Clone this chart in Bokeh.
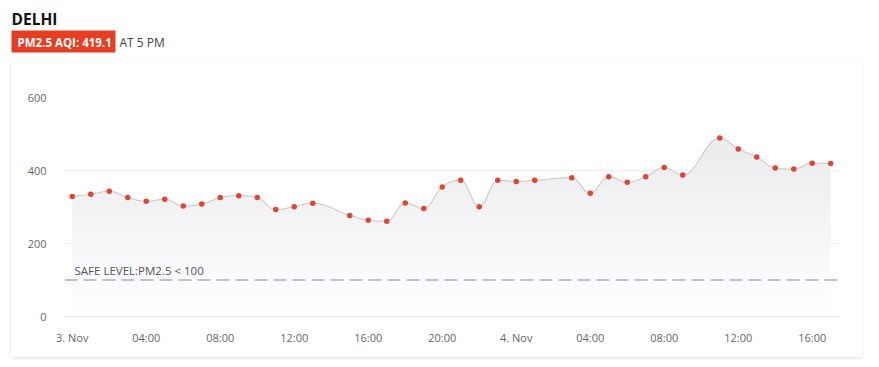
import numpy as np
from bokeh.plotting import figure
from bokeh.models import FixedTicker, Span, Label, Range1d, Spacer
from bokeh.layouts import column, row
from bokeh.core.properties import value
from bokeh.embed import file_html
from bokeh.resources import INLINE

# ---- data (hours after 3 Nov 00:00, PM2.5 AQI) ----
hours = [0, 1, 2, 3, 4, 5, 6, 7, 8, 9, 10, 11, 12, 13,
         15, 16, 17, 18, 19, 20, 21, 22, 23, 24, 25,
         27, 28, 29, 30, 31, 32, 33,
         35, 36, 37, 38, 39, 40, 41]
pm25 = [329, 335, 343, 326, 316, 321, 303, 308, 326, 331, 326, 293, 301, 310,
        277, 264, 261, 311, 296, 355, 373, 301, 373, 370, 373,
        380, 338, 383, 368, 383, 408, 388,
        489, 459, 437, 407, 404, 420, 419.1]
x_ticks = [0, 4, 8, 12, 16, 20, 24, 28, 32, 36, 40]
x_tick_labels = ["3. Nov", "04:00", "08:00", "12:00", "16:00", "20:00",
                 "4. Nov", "04:00", "08:00", "12:00", "16:00"]
y_ticks = [0, 200, 400, 600]
safe_level = 100
city = "DELHI"
badge_text = "PM2.5 AQI: 419.1"
time_text = "AT 5 PM"
safe_text = "SAFE LEVEL:PM2.5 < 100"

FONT = "Open Sans"
RED = "#e63e22"
PAGE_W = 879


def spline_curve(xs, ys, steps=12):
    xs = np.asarray(xs, float)
    ys = np.asarray(ys, float)
    n = len(xs)
    lcx, lcy = xs.copy(), ys.copy()
    rcx, rcy = xs.copy(), ys.copy()
    s, d = 1.5, 2.5
    for i in range(1, n - 1):
        lx, ly, px, py, nx, ny = xs[i-1], ys[i-1], xs[i], ys[i], xs[i+1], ys[i+1]
        a_x = (s * px + lx) / d
        a_y = (s * py + ly) / d
        b_x = (s * px + nx) / d
        b_y = (s * py + ny) / d
        if b_x != a_x:
            corr = (b_y - a_y) * (b_x - px) / (b_x - a_x) + py - b_y
            a_y += corr
            b_y += corr
        if a_y > ly and a_y > py:
            a_y = max(ly, py); b_y = 2 * py - a_y
        elif a_y < ly and a_y < py:
            a_y = min(ly, py); b_y = 2 * py - a_y
        if b_y > ny and b_y > py:
            b_y = max(ny, py); a_y = 2 * py - b_y
        elif b_y < ny and b_y < py:
            b_y = min(ny, py); a_y = 2 * py - b_y
        lcx[i], lcy[i], rcx[i], rcy[i] = a_x, a_y, b_x, b_y
    cx, cy = [xs[0]], [ys[0]]
    t = np.linspace(0, 1, steps + 1)[1:]
    for i in range(1, n):
        p0 = (xs[i-1], ys[i-1]); c1 = (rcx[i-1], rcy[i-1])
        c2 = (lcx[i], lcy[i]); p3 = (xs[i], ys[i])
        mt = 1 - t
        bx = mt**3 * p0[0] + 3 * mt**2 * t * c1[0] + 3 * mt * t**2 * c2[0] + t**3 * p3[0]
        by = mt**3 * p0[1] + 3 * mt**2 * t * c1[1] + 3 * mt * t**2 * c2[1] + t**3 * p3[1]
        cx.extend(bx); cy.extend(by)
    return np.array(cx), np.array(cy)


# ---------------- header ----------------
HEAD_H = 60
head = figure(width=PAGE_W, height=HEAD_H, output_backend="svg", toolbar_location=None,
              x_range=Range1d(0, PAGE_W), y_range=Range1d(HEAD_H, 0),
              x_axis_type=None, y_axis_type=None, min_border=0)
head.grid.visible = False
head.outline_line_color = None
head.border_fill_color = "white"
head.background_fill_color = "white"
head.text(x=[11], y=[18], text=[city], text_font=value(FONT), text_font_size="15.5px",
          text_font_style="bold", text_color="#111111", text_baseline="middle")
head.quad(left=[11], right=[115], top=[30], bottom=[52], fill_color=RED, line_color=None)
head.text(x=[17], y=[41.5], text=[badge_text], text_font=value(FONT),
          text_font_size="11.5px", text_font_style="bold", text_color="white",
          text_baseline="middle")
head.text(x=[119], y=[41.5], text=[time_text], text_font=value(FONT),
          text_font_size="12px", text_color="#444444", text_baseline="middle")

# ---------------- chart card ----------------
cx, cy = spline_curve(hours, pm25)

CARD_W, CARD_H = 851, 297
p = figure(width=CARD_W, height=CARD_H, output_backend="svg", toolbar_location=None,
           x_range=Range1d(-0.42, 41.42), y_range=Range1d(0, 600),
           min_border_left=53, min_border_right=24, min_border_top=37,
           min_border_bottom=41)
p.border_fill_color = "white"
p.background_fill_color = "white"
p.outline_line_color = None
p.styles = {"box-shadow": "0 1px 3px rgba(0,0,0,0.13)"}

# gradient-like area fill
top_val = max(pm25)
levels = np.linspace(0, top_val + 10, 31)
for a, b in zip(levels[:-1], levels[1:]):
    f = ((a + b) / 2) / top_val
    g = int(round(255 - 20 * f))
    col = "#%02x%02x%02x" % (g, g, min(255, g + 2))
    y1 = np.minimum(cy, a)
    y2 = np.minimum(cy, b + 2)
    p.varea(x=cx, y1=y1, y2=y2, fill_color=col, fill_alpha=1)

p.line(cx, cy, line_color="#cdcdcd", line_width=1.2)
p.scatter(hours, pm25, size=5.5, fill_color="#e5432f", line_color=None)

# safe level
p.add_layout(Span(location=safe_level, dimension="width", line_color="#b3acb6",
                  line_width=1.5, line_dash="13 6"))
p.add_layout(Label(x=p.x_range.start, y=safe_level, x_offset=10, y_offset=2,
                   text=safe_text, text_font=FONT, text_font_size="11.5px",
                   text_color="#555555", text_baseline="bottom"))

# axes
p.xaxis.ticker = FixedTicker(ticks=x_ticks)
p.xaxis.major_label_overrides = {t: l for t, l in zip(x_ticks, x_tick_labels)}
p.xaxis.axis_line_color = "#e8e6ea"
p.xaxis.major_tick_line_color = None
p.xaxis.minor_tick_line_color = None
p.xaxis.major_label_standoff = 7
p.yaxis.ticker = FixedTicker(ticks=y_ticks)
p.yaxis.axis_line_color = None
p.yaxis.major_tick_line_color = None
p.yaxis.minor_tick_line_color = None
p.yaxis.major_label_standoff = 12
for ax in (p.xaxis, p.yaxis):
    ax.major_label_text_font = FONT
    ax.major_label_text_font_size = "11px"
    ax.major_label_text_color = "#666666"
p.xgrid.grid_line_color = None
p.ygrid.grid_line_color = "#f1eef2"

layout = column(head, row(Spacer(width=11, height=CARD_H), p))
open("out.html", "w").write(file_html(layout, INLINE))
